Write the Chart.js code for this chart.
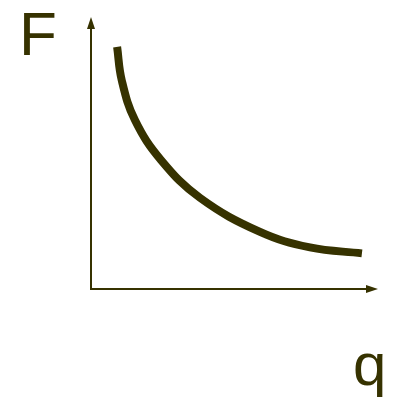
<!DOCTYPE html>
<html>
<head>
<meta charset="utf-8">
<script src="https://cdn.jsdelivr.net/npm/chart.js@4"></script>
<style>
  html, body { margin: 0; padding: 0; background: #fff; }
  #wrap { width: 393px; height: 401px; position: relative; }
</style>
</head>
<body>
<div id="wrap"><canvas id="myCurve"></canvas></div>
<script>
// data (abstract units, axes 0..10)
const qValues = [0.91, 1.07, 1.53, 2.44, 3.80, 5.89, 7.63, 9.44];
const fValues = [8.90, 7.68, 6.21, 4.74, 3.35, 2.10, 1.53, 1.31];
const yLabel = 'F';
const xLabel = 'q';

const ink = '#363200';

// axes with arrow heads + the two letters
const axesPlugin = {
    id: 'axesPlugin',
    afterDraw(chart) {
        const ctx = chart.ctx;
        const a = chart.chartArea;
        ctx.save();
        ctx.strokeStyle = ink;
        ctx.fillStyle = ink;
        ctx.lineWidth = 2;
        ctx.beginPath();
        ctx.moveTo(a.left, a.top + 8);
        ctx.lineTo(a.left, a.bottom);
        ctx.lineTo(a.right - 8, a.bottom);
        ctx.stroke();
        // arrow up
        ctx.beginPath();
        ctx.moveTo(a.left, a.top);
        ctx.lineTo(a.left - 4, a.top + 12);
        ctx.lineTo(a.left + 4, a.top + 12);
        ctx.closePath();
        ctx.fill();
        // arrow right
        ctx.beginPath();
        ctx.moveTo(a.right, a.bottom);
        ctx.lineTo(a.right - 12, a.bottom - 4);
        ctx.lineTo(a.right - 12, a.bottom + 4);
        ctx.closePath();
        ctx.fill();
        // labels
        ctx.font = '62px "Liberation Sans", Arial, sans-serif';
        ctx.textBaseline = 'alphabetic';
        ctx.fillText(yLabel, 19, 55);
        ctx.font = '60px "Liberation Sans", Arial, sans-serif';
        ctx.fillText(xLabel, 353, 385);
        ctx.restore();
    }
};

const ctxCurve = document.getElementById('myCurve').getContext('2d');
const myCurve = new Chart(ctxCurve, {
    type: 'line',
    data: {
        datasets: [{
            data: qValues.map((q, i) => ({ x: q, y: fValues[i] })),
            borderColor: ink,
            borderWidth: 8,
            borderCapStyle: 'butt',
            borderJoinStyle: 'round',
            pointRadius: 0,
            tension: 0.4,
            fill: false
        }]
    },
    options: {
        responsive: true,
        maintainAspectRatio: false,
        animation: false,
        layout: { padding: { left: 91, top: 17, right: 15, bottom: 112 } },
        plugins: { legend: { display: false }, tooltip: { enabled: false } },
        scales: {
            x: { type: 'linear', min: 0, max: 10, display: false },
            y: { type: 'linear', min: 0, max: 10, display: false }
        }
    },
    plugins: [axesPlugin]
});
</script>
</body>
</html>
